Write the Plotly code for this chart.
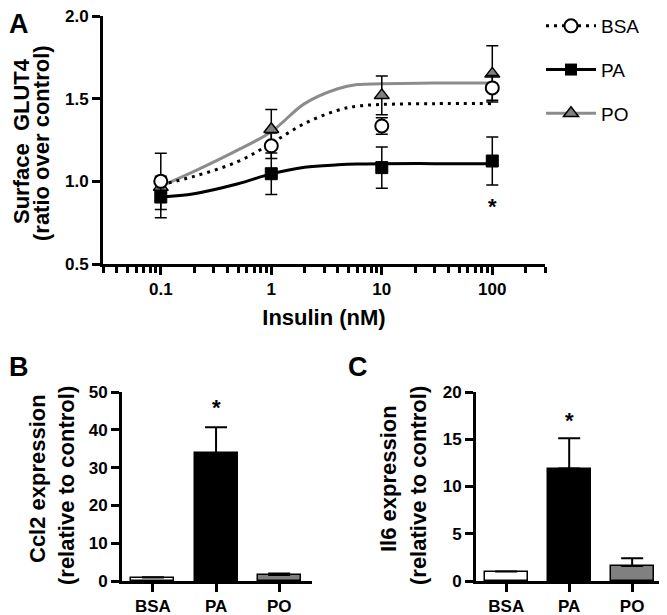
import plotly.graph_objects as go

# ---------------- Panel A data ----------------
insulin = [0.1, 1, 10, 100]
bsa_mean = [1.00, 1.215, 1.335, 1.565]
bsa_err = [0.17, 0.077, 0.05, 0.075]
pa_mean = [0.905, 1.046, 1.083, 1.123]
pa_err = [0.125, 0.125, 0.125, 0.145]
po_mean = [0.965, 1.315, 1.52, 1.65]
po_err = [0.05, 0.12, 0.117, 0.17]

# fitted curves
curve_x = [0.1, 0.2, 0.5, 1, 2, 4, 6, 10, 30, 100]
bsa_curve = [0.98, 1.03, 1.12, 1.23, 1.35, 1.43, 1.455, 1.465, 1.47, 1.47]
pa_curve = [0.905, 0.925, 0.985, 1.045, 1.085, 1.10, 1.105, 1.107, 1.107, 1.107]
po_curve = [0.97, 1.06, 1.19, 1.30, 1.47, 1.56, 1.585, 1.59, 1.595, 1.595]

x_major = [0.1, 1, 10, 100]
x_major_labels = ["0.1", "1", "10", "100"]
x_minor = [0.03, 0.04, 0.05, 0.06, 0.07, 0.08, 0.09,
           0.2, 0.3, 0.4, 0.5, 0.6, 0.7, 0.8, 0.9,
           2, 3, 4, 5, 6, 7, 8, 9,
           20, 30, 40, 50, 60, 70, 80, 90, 200, 300]

# ---------------- Panel B / C data ----------------
groups = ["BSA", "PA", "PO"]
ccl2_mean = [0.9, 33.8, 1.6]
ccl2_err = [0.1, 6.9, 0.4]
il6_mean = [1.0, 11.9, 1.6]
il6_err = [0.0, 3.2, 0.8]
bar_colors = ["#ffffff", "#000000", "#808080"]

FONT = "Arial, Liberation Sans, Helvetica, sans-serif"
GRAY = "#8c8c8c"

fig = go.Figure()

# fitted curves
fig.add_trace(go.Scatter(x=curve_x, y=pa_curve, mode="lines", line=dict(color="black", width=3, shape="spline"),
                         showlegend=False, hoverinfo="skip", xaxis="x", yaxis="y"))
fig.add_trace(go.Scatter(x=curve_x, y=po_curve, mode="lines", line=dict(color=GRAY, width=3, shape="spline"),
                         showlegend=False, hoverinfo="skip", xaxis="x", yaxis="y"))
fig.add_trace(go.Scatter(x=curve_x, y=bsa_curve, mode="lines", line=dict(color="black", width=3, dash="3px,5px", shape="spline"),
                         showlegend=False, hoverinfo="skip", xaxis="x", yaxis="y"))

# points with error bars
err_style = dict(type="data", color="black", thickness=1.5, width=6)
fig.add_trace(go.Scatter(x=insulin, y=pa_mean, mode="markers", name="PA", showlegend=False,
                         error_y=dict(array=pa_err, **err_style),
                         marker=dict(symbol="square", size=12, color="black", line=dict(color="black", width=1)),
                         xaxis="x", yaxis="y"))
fig.add_trace(go.Scatter(x=insulin, y=po_mean, mode="markers", name="PO", showlegend=False,
                         error_y=dict(array=po_err, **err_style),
                         marker=dict(symbol="triangle-up", size=13, color="#808080", line=dict(color="black", width=1.5)),
                         xaxis="x", yaxis="y"))
fig.add_trace(go.Scatter(x=insulin, y=bsa_mean, mode="markers", name="BSA", showlegend=False,
                         error_y=dict(array=bsa_err, **err_style),
                         marker=dict(symbol="circle", size=13, color="white", line=dict(color="black", width=2)),
                         xaxis="x", yaxis="y"))

# legend entries showing line + marker
fig.add_trace(go.Scatter(x=[None], y=[None], mode="lines+markers", name="BSA",
                         line=dict(color="black", width=3, dash="3px,5px"),
                         marker=dict(symbol="circle", size=13, color="white", line=dict(color="black", width=2)),
                         legendgroup="BSA", legendrank=1, xaxis="x", yaxis="y"))
fig.add_trace(go.Scatter(x=[None], y=[None], mode="lines+markers", name="PA",
                         line=dict(color="black", width=3),
                         marker=dict(symbol="square", size=12, color="black"),
                         legendgroup="PA", legendrank=2, xaxis="x", yaxis="y"))
fig.add_trace(go.Scatter(x=[None], y=[None], mode="lines+markers", name="PO",
                         line=dict(color=GRAY, width=3),
                         marker=dict(symbol="triangle-up", size=13, color="#808080", line=dict(color="black", width=1.5)),
                         legendgroup="PO", legendrank=3, xaxis="x", yaxis="y"))

# bars
bar_err = dict(type="data", symmetric=False, color="black", thickness=2, width=11)
fig.add_trace(go.Bar(x=[0, 1, 2], y=ccl2_mean, width=0.68,
                     marker=dict(color=bar_colors, line=dict(color="black", width=1.5)),
                     error_y=dict(array=ccl2_err, arrayminus=[0, 0, 0], **bar_err),
                     showlegend=False, xaxis="x2", yaxis="y2"))
fig.add_trace(go.Bar(x=[0, 1, 2], y=il6_mean, width=0.68,
                     marker=dict(color=bar_colors, line=dict(color="black", width=1.5)),
                     error_y=dict(array=il6_err, arrayminus=[0, 0, 0], **bar_err),
                     showlegend=False, xaxis="x3", yaxis="y3"))

# page has an 8px body margin: figure is placed at (8, 8) in the window
OFF = 8
W, H = 667 - OFF, 615 - OFF
def px_x(p):
    return (p - OFF) / W
def px_y(p):
    return 1 - (p - OFF) / H

axis_common = dict(showline=True, linecolor="black", linewidth=3, ticks="outside", tickwidth=2.5,
                   tickcolor="black", ticklen=8, showgrid=False, zeroline=False, automargin=False,
                   ticklabeloverflow="allow",
                   tickfont=dict(family=FONT, size=17, color="black", weight="bold"))
title_font = dict(family=FONT, size=22, color="black", weight="bold")

fig.update_layout(
    width=W, height=H, margin=dict(l=0, r=0, t=0, b=0, autoexpand=False),
    paper_bgcolor="white", plot_bgcolor="white",
    font=dict(family=FONT, color="black"),
    bargap=0,
    showlegend=True,
    legend=dict(x=px_x(541), y=px_y(7), xanchor="left", yanchor="top",
                font=dict(family=FONT, size=19, color="black"),
                tracegroupgap=16, itemwidth=50, bgcolor="rgba(0,0,0,0)"),
    xaxis=dict(domain=[px_x(103), px_x(545)], anchor="y", type="log",
               range=[-1.523, 2.477], tickvals=x_major, ticktext=x_major_labels,
               minor=dict(tickvals=x_minor, ticks="outside", ticklen=6, tickwidth=2.5, tickcolor="black"),
               title=dict(text="Insulin (nM)", font=title_font, standoff=12),
               **axis_common),
    yaxis=dict(domain=[px_y(264), px_y(16)], anchor="x", range=[0.5, 2.0],
               tickvals=[0.5, 1.0, 1.5, 2.0], ticktext=["0.5", "1.0", "1.5", "2.0"],
               **axis_common),
    xaxis2=dict(domain=[px_x(122), px_x(312)], anchor="y2", range=[-0.49, 2.52],
                tickvals=[0, 1, 2], ticktext=groups, **axis_common),
    yaxis2=dict(domain=[px_y(581), px_y(392)], anchor="x2", range=[0, 50], tickvals=[0, 10, 20, 30, 40, 50],
                **axis_common),
    xaxis3=dict(domain=[px_x(476), px_x(663)], anchor="y3", range=[-0.48, 2.49],
                tickvals=[0, 1, 2], ticktext=groups, **axis_common),
    yaxis3=dict(domain=[px_y(581), px_y(392)], anchor="x3", range=[0, 20], tickvals=[0, 5, 10, 15, 20],
                **axis_common),
)

# y-axis titles (two tight lines each)
for line, cx, cy in [("Surface  GLUT4", 21, 141), ("(ratio over control)", 42, 143),
                     ("Ccl2 expression", 38, 479), ("(relative to control)", 66, 486),
                     ("Il6 expression", 389, 479), ("(relative to control)", 418, 486)]:
    fig.add_annotation(x=px_x(cx), y=px_y(cy), xref="paper", yref="paper", text=line, textangle=-90,
                       showarrow=False, xanchor="center", yanchor="middle", font=title_font)

star_font = dict(family=FONT, size=22, color="black", weight="bold")
fig.add_annotation(x=2, y=0.85, xref="x", yref="y", text="*", showarrow=False, font=star_font)
fig.add_annotation(x=1, y=46, xref="x2", yref="y2", text="*", showarrow=False, font=star_font)
fig.add_annotation(x=1, y=17, xref="x3", yref="y3", text="*", showarrow=False, font=star_font)

label_font = dict(family=FONT, size=27, color="black", weight="bold")
for txt, lx, ly in [("A", 8, 8), ("B", 8, 351), ("C", 347, 351)]:
    fig.add_annotation(x=px_x(lx), y=px_y(ly), xref="paper", yref="paper", xanchor="left", yanchor="top",
                       text=txt, showarrow=False, font=label_font, borderpad=0)

fig.write_html("out.html")
